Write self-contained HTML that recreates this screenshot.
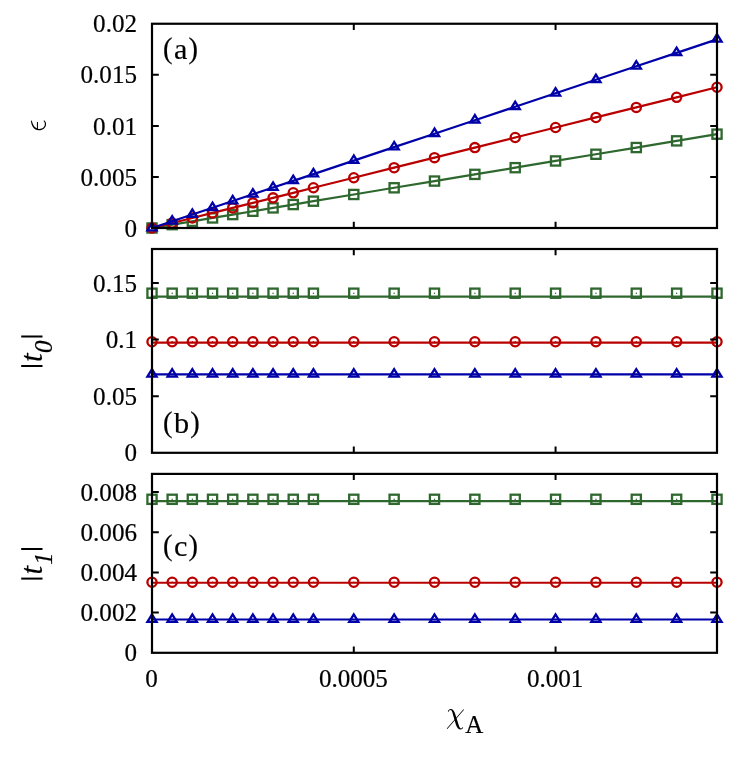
<!DOCTYPE html>
<html><head><meta charset="utf-8"><title>chart</title>
<style>
html,body{margin:0;padding:0;background:#fff;}
body{width:747px;height:758px;overflow:hidden;}
svg{display:block;will-change:transform;}
#t{filter:grayscale(1);}
text{font-family:"Liberation Serif",serif;fill:#000;stroke:#000;stroke-width:0.2px;}
</style></head><body>
<svg width="747" height="758" viewBox="0 0 747 758">
<rect x="0" y="0" width="747" height="758" fill="#fff"/>
<path d="M152 228L172.18 224.65L192.36 221.3L212.54 217.94L232.71 214.59L252.89 211.24L273.07 207.89L293.25 204.54L313.43 201.18L353.79 194.48L394.14 187.78L434.5 181.07L474.86 174.37L515.21 167.67L555.57 160.96L595.93 154.26L636.29 147.55L676.64 140.85L717 134.15" fill="none" stroke="#2f682f" stroke-width="2.2" stroke-linejoin="round"/>
<g><rect x="147.4" y="223.4" width="9.2" height="9.2" fill="none" stroke="#2f682f" stroke-width="2.3"/><circle cx="152" cy="228" r="0.75" fill="#2f682f"/><rect x="167.58" y="220.05" width="9.2" height="9.2" fill="none" stroke="#2f682f" stroke-width="2.3"/><circle cx="172.18" cy="224.65" r="0.75" fill="#2f682f"/><rect x="187.76" y="216.7" width="9.2" height="9.2" fill="none" stroke="#2f682f" stroke-width="2.3"/><circle cx="192.36" cy="221.3" r="0.75" fill="#2f682f"/><rect x="207.94" y="213.34" width="9.2" height="9.2" fill="none" stroke="#2f682f" stroke-width="2.3"/><circle cx="212.54" cy="217.94" r="0.75" fill="#2f682f"/><rect x="228.11" y="209.99" width="9.2" height="9.2" fill="none" stroke="#2f682f" stroke-width="2.3"/><circle cx="232.71" cy="214.59" r="0.75" fill="#2f682f"/><rect x="248.29" y="206.64" width="9.2" height="9.2" fill="none" stroke="#2f682f" stroke-width="2.3"/><circle cx="252.89" cy="211.24" r="0.75" fill="#2f682f"/><rect x="268.47" y="203.29" width="9.2" height="9.2" fill="none" stroke="#2f682f" stroke-width="2.3"/><circle cx="273.07" cy="207.89" r="0.75" fill="#2f682f"/><rect x="288.65" y="199.94" width="9.2" height="9.2" fill="none" stroke="#2f682f" stroke-width="2.3"/><circle cx="293.25" cy="204.54" r="0.75" fill="#2f682f"/><rect x="308.83" y="196.58" width="9.2" height="9.2" fill="none" stroke="#2f682f" stroke-width="2.3"/><circle cx="313.43" cy="201.18" r="0.75" fill="#2f682f"/><rect x="349.19" y="189.88" width="9.2" height="9.2" fill="none" stroke="#2f682f" stroke-width="2.3"/><circle cx="353.79" cy="194.48" r="0.75" fill="#2f682f"/><rect x="389.54" y="183.18" width="9.2" height="9.2" fill="none" stroke="#2f682f" stroke-width="2.3"/><circle cx="394.14" cy="187.78" r="0.75" fill="#2f682f"/><rect x="429.9" y="176.47" width="9.2" height="9.2" fill="none" stroke="#2f682f" stroke-width="2.3"/><circle cx="434.5" cy="181.07" r="0.75" fill="#2f682f"/><rect x="470.26" y="169.77" width="9.2" height="9.2" fill="none" stroke="#2f682f" stroke-width="2.3"/><circle cx="474.86" cy="174.37" r="0.75" fill="#2f682f"/><rect x="510.61" y="163.07" width="9.2" height="9.2" fill="none" stroke="#2f682f" stroke-width="2.3"/><circle cx="515.21" cy="167.67" r="0.75" fill="#2f682f"/><rect x="550.97" y="156.36" width="9.2" height="9.2" fill="none" stroke="#2f682f" stroke-width="2.3"/><circle cx="555.57" cy="160.96" r="0.75" fill="#2f682f"/><rect x="591.33" y="149.66" width="9.2" height="9.2" fill="none" stroke="#2f682f" stroke-width="2.3"/><circle cx="595.93" cy="154.26" r="0.75" fill="#2f682f"/><rect x="631.69" y="142.95" width="9.2" height="9.2" fill="none" stroke="#2f682f" stroke-width="2.3"/><circle cx="636.29" cy="147.55" r="0.75" fill="#2f682f"/><rect x="672.04" y="136.25" width="9.2" height="9.2" fill="none" stroke="#2f682f" stroke-width="2.3"/><circle cx="676.64" cy="140.85" r="0.75" fill="#2f682f"/><rect x="712.4" y="129.55" width="9.2" height="9.2" fill="none" stroke="#2f682f" stroke-width="2.3"/><circle cx="717" cy="134.15" r="0.75" fill="#2f682f"/></g>
<path d="M152 228L172.18 222.97L192.36 217.95L212.54 212.92L232.71 207.9L252.89 202.87L273.07 197.84L293.25 192.82L313.43 187.79L353.79 177.74L394.14 167.69L434.5 157.64L474.86 147.58L515.21 137.53L555.57 127.48L595.93 117.43L636.29 107.38L676.64 97.32L717 87.27" fill="none" stroke="#b90000" stroke-width="2.2" stroke-linejoin="round"/>
<g><circle cx="152" cy="228" r="4.6" fill="none" stroke="#b90000" stroke-width="2.3"/><circle cx="152" cy="228" r="0.75" fill="#b90000"/><circle cx="172.18" cy="222.97" r="4.6" fill="none" stroke="#b90000" stroke-width="2.3"/><circle cx="172.18" cy="222.97" r="0.75" fill="#b90000"/><circle cx="192.36" cy="217.95" r="4.6" fill="none" stroke="#b90000" stroke-width="2.3"/><circle cx="192.36" cy="217.95" r="0.75" fill="#b90000"/><circle cx="212.54" cy="212.92" r="4.6" fill="none" stroke="#b90000" stroke-width="2.3"/><circle cx="212.54" cy="212.92" r="0.75" fill="#b90000"/><circle cx="232.71" cy="207.9" r="4.6" fill="none" stroke="#b90000" stroke-width="2.3"/><circle cx="232.71" cy="207.9" r="0.75" fill="#b90000"/><circle cx="252.89" cy="202.87" r="4.6" fill="none" stroke="#b90000" stroke-width="2.3"/><circle cx="252.89" cy="202.87" r="0.75" fill="#b90000"/><circle cx="273.07" cy="197.84" r="4.6" fill="none" stroke="#b90000" stroke-width="2.3"/><circle cx="273.07" cy="197.84" r="0.75" fill="#b90000"/><circle cx="293.25" cy="192.82" r="4.6" fill="none" stroke="#b90000" stroke-width="2.3"/><circle cx="293.25" cy="192.82" r="0.75" fill="#b90000"/><circle cx="313.43" cy="187.79" r="4.6" fill="none" stroke="#b90000" stroke-width="2.3"/><circle cx="313.43" cy="187.79" r="0.75" fill="#b90000"/><circle cx="353.79" cy="177.74" r="4.6" fill="none" stroke="#b90000" stroke-width="2.3"/><circle cx="353.79" cy="177.74" r="0.75" fill="#b90000"/><circle cx="394.14" cy="167.69" r="4.6" fill="none" stroke="#b90000" stroke-width="2.3"/><circle cx="394.14" cy="167.69" r="0.75" fill="#b90000"/><circle cx="434.5" cy="157.64" r="4.6" fill="none" stroke="#b90000" stroke-width="2.3"/><circle cx="434.5" cy="157.64" r="0.75" fill="#b90000"/><circle cx="474.86" cy="147.58" r="4.6" fill="none" stroke="#b90000" stroke-width="2.3"/><circle cx="474.86" cy="147.58" r="0.75" fill="#b90000"/><circle cx="515.21" cy="137.53" r="4.6" fill="none" stroke="#b90000" stroke-width="2.3"/><circle cx="515.21" cy="137.53" r="0.75" fill="#b90000"/><circle cx="555.57" cy="127.48" r="4.6" fill="none" stroke="#b90000" stroke-width="2.3"/><circle cx="555.57" cy="127.48" r="0.75" fill="#b90000"/><circle cx="595.93" cy="117.43" r="4.6" fill="none" stroke="#b90000" stroke-width="2.3"/><circle cx="595.93" cy="117.43" r="0.75" fill="#b90000"/><circle cx="636.29" cy="107.38" r="4.6" fill="none" stroke="#b90000" stroke-width="2.3"/><circle cx="636.29" cy="107.38" r="0.75" fill="#b90000"/><circle cx="676.64" cy="97.32" r="4.6" fill="none" stroke="#b90000" stroke-width="2.3"/><circle cx="676.64" cy="97.32" r="0.75" fill="#b90000"/><circle cx="717" cy="87.27" r="4.6" fill="none" stroke="#b90000" stroke-width="2.3"/><circle cx="717" cy="87.27" r="0.75" fill="#b90000"/></g>
<path d="M152 228L172.18 221.26L192.36 214.53L212.54 207.79L232.71 201.05L252.89 194.32L273.07 187.58L293.25 180.84L313.43 174.11L353.79 160.63L394.14 147.16L434.5 133.69L474.86 120.21L515.21 106.74L555.57 93.27L595.93 79.79L636.29 66.32L676.64 52.85L717 39.38" fill="none" stroke="#0000a8" stroke-width="2.2" stroke-linejoin="round"/>
<g><path d="M152 222.85L147.4 230.3L156.6 230.3Z" fill="none" stroke="#0000a8" stroke-width="2.3" stroke-linejoin="miter"/><circle cx="152" cy="228" r="0.75" fill="#0000a8"/><path d="M172.18 216.11L167.58 223.56L176.78 223.56Z" fill="none" stroke="#0000a8" stroke-width="2.3" stroke-linejoin="miter"/><circle cx="172.18" cy="221.26" r="0.75" fill="#0000a8"/><path d="M192.36 209.37L187.76 216.83L196.96 216.83Z" fill="none" stroke="#0000a8" stroke-width="2.3" stroke-linejoin="miter"/><circle cx="192.36" cy="214.53" r="0.75" fill="#0000a8"/><path d="M212.54 202.64L207.94 210.09L217.14 210.09Z" fill="none" stroke="#0000a8" stroke-width="2.3" stroke-linejoin="miter"/><circle cx="212.54" cy="207.79" r="0.75" fill="#0000a8"/><path d="M232.71 195.9L228.11 203.35L237.31 203.35Z" fill="none" stroke="#0000a8" stroke-width="2.3" stroke-linejoin="miter"/><circle cx="232.71" cy="201.05" r="0.75" fill="#0000a8"/><path d="M252.89 189.16L248.29 196.62L257.49 196.62Z" fill="none" stroke="#0000a8" stroke-width="2.3" stroke-linejoin="miter"/><circle cx="252.89" cy="194.32" r="0.75" fill="#0000a8"/><path d="M273.07 182.43L268.47 189.88L277.67 189.88Z" fill="none" stroke="#0000a8" stroke-width="2.3" stroke-linejoin="miter"/><circle cx="273.07" cy="187.58" r="0.75" fill="#0000a8"/><path d="M293.25 175.69L288.65 183.14L297.85 183.14Z" fill="none" stroke="#0000a8" stroke-width="2.3" stroke-linejoin="miter"/><circle cx="293.25" cy="180.84" r="0.75" fill="#0000a8"/><path d="M313.43 168.96L308.83 176.41L318.03 176.41Z" fill="none" stroke="#0000a8" stroke-width="2.3" stroke-linejoin="miter"/><circle cx="313.43" cy="174.11" r="0.75" fill="#0000a8"/><path d="M353.79 155.48L349.19 162.93L358.39 162.93Z" fill="none" stroke="#0000a8" stroke-width="2.3" stroke-linejoin="miter"/><circle cx="353.79" cy="160.63" r="0.75" fill="#0000a8"/><path d="M394.14 142.01L389.54 149.46L398.74 149.46Z" fill="none" stroke="#0000a8" stroke-width="2.3" stroke-linejoin="miter"/><circle cx="394.14" cy="147.16" r="0.75" fill="#0000a8"/><path d="M434.5 128.54L429.9 135.99L439.1 135.99Z" fill="none" stroke="#0000a8" stroke-width="2.3" stroke-linejoin="miter"/><circle cx="434.5" cy="133.69" r="0.75" fill="#0000a8"/><path d="M474.86 115.06L470.26 122.51L479.46 122.51Z" fill="none" stroke="#0000a8" stroke-width="2.3" stroke-linejoin="miter"/><circle cx="474.86" cy="120.21" r="0.75" fill="#0000a8"/><path d="M515.21 101.59L510.61 109.04L519.81 109.04Z" fill="none" stroke="#0000a8" stroke-width="2.3" stroke-linejoin="miter"/><circle cx="515.21" cy="106.74" r="0.75" fill="#0000a8"/><path d="M555.57 88.12L550.97 95.57L560.17 95.57Z" fill="none" stroke="#0000a8" stroke-width="2.3" stroke-linejoin="miter"/><circle cx="555.57" cy="93.27" r="0.75" fill="#0000a8"/><path d="M595.93 74.64L591.33 82.09L600.53 82.09Z" fill="none" stroke="#0000a8" stroke-width="2.3" stroke-linejoin="miter"/><circle cx="595.93" cy="79.79" r="0.75" fill="#0000a8"/><path d="M636.29 61.17L631.69 68.62L640.89 68.62Z" fill="none" stroke="#0000a8" stroke-width="2.3" stroke-linejoin="miter"/><circle cx="636.29" cy="66.32" r="0.75" fill="#0000a8"/><path d="M676.64 47.7L672.04 55.15L681.24 55.15Z" fill="none" stroke="#0000a8" stroke-width="2.3" stroke-linejoin="miter"/><circle cx="676.64" cy="52.85" r="0.75" fill="#0000a8"/><path d="M717 34.22L712.4 41.68L721.6 41.68Z" fill="none" stroke="#0000a8" stroke-width="2.3" stroke-linejoin="miter"/><circle cx="717" cy="39.38" r="0.75" fill="#0000a8"/></g>
<path d="M152 296.6L717 296.6" fill="none" stroke="#2f682f" stroke-width="2.2" stroke-linejoin="round"/>
<g><rect x="147.4" y="288.6" width="9.2" height="9.2" fill="none" stroke="#2f682f" stroke-width="2.3"/><circle cx="152" cy="293.2" r="0.75" fill="#2f682f"/><rect x="167.58" y="288.6" width="9.2" height="9.2" fill="none" stroke="#2f682f" stroke-width="2.3"/><circle cx="172.18" cy="293.2" r="0.75" fill="#2f682f"/><rect x="187.76" y="288.6" width="9.2" height="9.2" fill="none" stroke="#2f682f" stroke-width="2.3"/><circle cx="192.36" cy="293.2" r="0.75" fill="#2f682f"/><rect x="207.94" y="288.6" width="9.2" height="9.2" fill="none" stroke="#2f682f" stroke-width="2.3"/><circle cx="212.54" cy="293.2" r="0.75" fill="#2f682f"/><rect x="228.11" y="288.6" width="9.2" height="9.2" fill="none" stroke="#2f682f" stroke-width="2.3"/><circle cx="232.71" cy="293.2" r="0.75" fill="#2f682f"/><rect x="248.29" y="288.6" width="9.2" height="9.2" fill="none" stroke="#2f682f" stroke-width="2.3"/><circle cx="252.89" cy="293.2" r="0.75" fill="#2f682f"/><rect x="268.47" y="288.6" width="9.2" height="9.2" fill="none" stroke="#2f682f" stroke-width="2.3"/><circle cx="273.07" cy="293.2" r="0.75" fill="#2f682f"/><rect x="288.65" y="288.6" width="9.2" height="9.2" fill="none" stroke="#2f682f" stroke-width="2.3"/><circle cx="293.25" cy="293.2" r="0.75" fill="#2f682f"/><rect x="308.83" y="288.6" width="9.2" height="9.2" fill="none" stroke="#2f682f" stroke-width="2.3"/><circle cx="313.43" cy="293.2" r="0.75" fill="#2f682f"/><rect x="349.19" y="288.6" width="9.2" height="9.2" fill="none" stroke="#2f682f" stroke-width="2.3"/><circle cx="353.79" cy="293.2" r="0.75" fill="#2f682f"/><rect x="389.54" y="288.6" width="9.2" height="9.2" fill="none" stroke="#2f682f" stroke-width="2.3"/><circle cx="394.14" cy="293.2" r="0.75" fill="#2f682f"/><rect x="429.9" y="288.6" width="9.2" height="9.2" fill="none" stroke="#2f682f" stroke-width="2.3"/><circle cx="434.5" cy="293.2" r="0.75" fill="#2f682f"/><rect x="470.26" y="288.6" width="9.2" height="9.2" fill="none" stroke="#2f682f" stroke-width="2.3"/><circle cx="474.86" cy="293.2" r="0.75" fill="#2f682f"/><rect x="510.61" y="288.6" width="9.2" height="9.2" fill="none" stroke="#2f682f" stroke-width="2.3"/><circle cx="515.21" cy="293.2" r="0.75" fill="#2f682f"/><rect x="550.97" y="288.6" width="9.2" height="9.2" fill="none" stroke="#2f682f" stroke-width="2.3"/><circle cx="555.57" cy="293.2" r="0.75" fill="#2f682f"/><rect x="591.33" y="288.6" width="9.2" height="9.2" fill="none" stroke="#2f682f" stroke-width="2.3"/><circle cx="595.93" cy="293.2" r="0.75" fill="#2f682f"/><rect x="631.69" y="288.6" width="9.2" height="9.2" fill="none" stroke="#2f682f" stroke-width="2.3"/><circle cx="636.29" cy="293.2" r="0.75" fill="#2f682f"/><rect x="672.04" y="288.6" width="9.2" height="9.2" fill="none" stroke="#2f682f" stroke-width="2.3"/><circle cx="676.64" cy="293.2" r="0.75" fill="#2f682f"/><rect x="712.4" y="288.6" width="9.2" height="9.2" fill="none" stroke="#2f682f" stroke-width="2.3"/><circle cx="717" cy="293.2" r="0.75" fill="#2f682f"/></g>
<path d="M152 342.65L717 342.65" fill="none" stroke="#b90000" stroke-width="2.2" stroke-linejoin="round"/>
<g><circle cx="152" cy="341.7" r="4.6" fill="none" stroke="#b90000" stroke-width="2.3"/><circle cx="152" cy="341.7" r="0.75" fill="#b90000"/><circle cx="172.18" cy="341.7" r="4.6" fill="none" stroke="#b90000" stroke-width="2.3"/><circle cx="172.18" cy="341.7" r="0.75" fill="#b90000"/><circle cx="192.36" cy="341.7" r="4.6" fill="none" stroke="#b90000" stroke-width="2.3"/><circle cx="192.36" cy="341.7" r="0.75" fill="#b90000"/><circle cx="212.54" cy="341.7" r="4.6" fill="none" stroke="#b90000" stroke-width="2.3"/><circle cx="212.54" cy="341.7" r="0.75" fill="#b90000"/><circle cx="232.71" cy="341.7" r="4.6" fill="none" stroke="#b90000" stroke-width="2.3"/><circle cx="232.71" cy="341.7" r="0.75" fill="#b90000"/><circle cx="252.89" cy="341.7" r="4.6" fill="none" stroke="#b90000" stroke-width="2.3"/><circle cx="252.89" cy="341.7" r="0.75" fill="#b90000"/><circle cx="273.07" cy="341.7" r="4.6" fill="none" stroke="#b90000" stroke-width="2.3"/><circle cx="273.07" cy="341.7" r="0.75" fill="#b90000"/><circle cx="293.25" cy="341.7" r="4.6" fill="none" stroke="#b90000" stroke-width="2.3"/><circle cx="293.25" cy="341.7" r="0.75" fill="#b90000"/><circle cx="313.43" cy="341.7" r="4.6" fill="none" stroke="#b90000" stroke-width="2.3"/><circle cx="313.43" cy="341.7" r="0.75" fill="#b90000"/><circle cx="353.79" cy="341.7" r="4.6" fill="none" stroke="#b90000" stroke-width="2.3"/><circle cx="353.79" cy="341.7" r="0.75" fill="#b90000"/><circle cx="394.14" cy="341.7" r="4.6" fill="none" stroke="#b90000" stroke-width="2.3"/><circle cx="394.14" cy="341.7" r="0.75" fill="#b90000"/><circle cx="434.5" cy="341.7" r="4.6" fill="none" stroke="#b90000" stroke-width="2.3"/><circle cx="434.5" cy="341.7" r="0.75" fill="#b90000"/><circle cx="474.86" cy="341.7" r="4.6" fill="none" stroke="#b90000" stroke-width="2.3"/><circle cx="474.86" cy="341.7" r="0.75" fill="#b90000"/><circle cx="515.21" cy="341.7" r="4.6" fill="none" stroke="#b90000" stroke-width="2.3"/><circle cx="515.21" cy="341.7" r="0.75" fill="#b90000"/><circle cx="555.57" cy="341.7" r="4.6" fill="none" stroke="#b90000" stroke-width="2.3"/><circle cx="555.57" cy="341.7" r="0.75" fill="#b90000"/><circle cx="595.93" cy="341.7" r="4.6" fill="none" stroke="#b90000" stroke-width="2.3"/><circle cx="595.93" cy="341.7" r="0.75" fill="#b90000"/><circle cx="636.29" cy="341.7" r="4.6" fill="none" stroke="#b90000" stroke-width="2.3"/><circle cx="636.29" cy="341.7" r="0.75" fill="#b90000"/><circle cx="676.64" cy="341.7" r="4.6" fill="none" stroke="#b90000" stroke-width="2.3"/><circle cx="676.64" cy="341.7" r="0.75" fill="#b90000"/><circle cx="717" cy="341.7" r="4.6" fill="none" stroke="#b90000" stroke-width="2.3"/><circle cx="717" cy="341.7" r="0.75" fill="#b90000"/></g>
<path d="M152 374.3L717 374.3" fill="none" stroke="#0000a8" stroke-width="2.2" stroke-linejoin="round"/>
<g><path d="M152 369.15L147.4 376.6L156.6 376.6Z" fill="none" stroke="#0000a8" stroke-width="2.3" stroke-linejoin="miter"/><circle cx="152" cy="374.3" r="0.75" fill="#0000a8"/><path d="M172.18 369.15L167.58 376.6L176.78 376.6Z" fill="none" stroke="#0000a8" stroke-width="2.3" stroke-linejoin="miter"/><circle cx="172.18" cy="374.3" r="0.75" fill="#0000a8"/><path d="M192.36 369.15L187.76 376.6L196.96 376.6Z" fill="none" stroke="#0000a8" stroke-width="2.3" stroke-linejoin="miter"/><circle cx="192.36" cy="374.3" r="0.75" fill="#0000a8"/><path d="M212.54 369.15L207.94 376.6L217.14 376.6Z" fill="none" stroke="#0000a8" stroke-width="2.3" stroke-linejoin="miter"/><circle cx="212.54" cy="374.3" r="0.75" fill="#0000a8"/><path d="M232.71 369.15L228.11 376.6L237.31 376.6Z" fill="none" stroke="#0000a8" stroke-width="2.3" stroke-linejoin="miter"/><circle cx="232.71" cy="374.3" r="0.75" fill="#0000a8"/><path d="M252.89 369.15L248.29 376.6L257.49 376.6Z" fill="none" stroke="#0000a8" stroke-width="2.3" stroke-linejoin="miter"/><circle cx="252.89" cy="374.3" r="0.75" fill="#0000a8"/><path d="M273.07 369.15L268.47 376.6L277.67 376.6Z" fill="none" stroke="#0000a8" stroke-width="2.3" stroke-linejoin="miter"/><circle cx="273.07" cy="374.3" r="0.75" fill="#0000a8"/><path d="M293.25 369.15L288.65 376.6L297.85 376.6Z" fill="none" stroke="#0000a8" stroke-width="2.3" stroke-linejoin="miter"/><circle cx="293.25" cy="374.3" r="0.75" fill="#0000a8"/><path d="M313.43 369.15L308.83 376.6L318.03 376.6Z" fill="none" stroke="#0000a8" stroke-width="2.3" stroke-linejoin="miter"/><circle cx="313.43" cy="374.3" r="0.75" fill="#0000a8"/><path d="M353.79 369.15L349.19 376.6L358.39 376.6Z" fill="none" stroke="#0000a8" stroke-width="2.3" stroke-linejoin="miter"/><circle cx="353.79" cy="374.3" r="0.75" fill="#0000a8"/><path d="M394.14 369.15L389.54 376.6L398.74 376.6Z" fill="none" stroke="#0000a8" stroke-width="2.3" stroke-linejoin="miter"/><circle cx="394.14" cy="374.3" r="0.75" fill="#0000a8"/><path d="M434.5 369.15L429.9 376.6L439.1 376.6Z" fill="none" stroke="#0000a8" stroke-width="2.3" stroke-linejoin="miter"/><circle cx="434.5" cy="374.3" r="0.75" fill="#0000a8"/><path d="M474.86 369.15L470.26 376.6L479.46 376.6Z" fill="none" stroke="#0000a8" stroke-width="2.3" stroke-linejoin="miter"/><circle cx="474.86" cy="374.3" r="0.75" fill="#0000a8"/><path d="M515.21 369.15L510.61 376.6L519.81 376.6Z" fill="none" stroke="#0000a8" stroke-width="2.3" stroke-linejoin="miter"/><circle cx="515.21" cy="374.3" r="0.75" fill="#0000a8"/><path d="M555.57 369.15L550.97 376.6L560.17 376.6Z" fill="none" stroke="#0000a8" stroke-width="2.3" stroke-linejoin="miter"/><circle cx="555.57" cy="374.3" r="0.75" fill="#0000a8"/><path d="M595.93 369.15L591.33 376.6L600.53 376.6Z" fill="none" stroke="#0000a8" stroke-width="2.3" stroke-linejoin="miter"/><circle cx="595.93" cy="374.3" r="0.75" fill="#0000a8"/><path d="M636.29 369.15L631.69 376.6L640.89 376.6Z" fill="none" stroke="#0000a8" stroke-width="2.3" stroke-linejoin="miter"/><circle cx="636.29" cy="374.3" r="0.75" fill="#0000a8"/><path d="M676.64 369.15L672.04 376.6L681.24 376.6Z" fill="none" stroke="#0000a8" stroke-width="2.3" stroke-linejoin="miter"/><circle cx="676.64" cy="374.3" r="0.75" fill="#0000a8"/><path d="M717 369.15L712.4 376.6L721.6 376.6Z" fill="none" stroke="#0000a8" stroke-width="2.3" stroke-linejoin="miter"/><circle cx="717" cy="374.3" r="0.75" fill="#0000a8"/></g>
<path d="M152 501.2L717 501.2" fill="none" stroke="#2f682f" stroke-width="2.2" stroke-linejoin="round"/>
<g><rect x="147.4" y="494.7" width="9.2" height="9.2" fill="none" stroke="#2f682f" stroke-width="2.3"/><circle cx="152" cy="499.3" r="0.75" fill="#2f682f"/><rect x="167.58" y="494.7" width="9.2" height="9.2" fill="none" stroke="#2f682f" stroke-width="2.3"/><circle cx="172.18" cy="499.3" r="0.75" fill="#2f682f"/><rect x="187.76" y="494.7" width="9.2" height="9.2" fill="none" stroke="#2f682f" stroke-width="2.3"/><circle cx="192.36" cy="499.3" r="0.75" fill="#2f682f"/><rect x="207.94" y="494.7" width="9.2" height="9.2" fill="none" stroke="#2f682f" stroke-width="2.3"/><circle cx="212.54" cy="499.3" r="0.75" fill="#2f682f"/><rect x="228.11" y="494.7" width="9.2" height="9.2" fill="none" stroke="#2f682f" stroke-width="2.3"/><circle cx="232.71" cy="499.3" r="0.75" fill="#2f682f"/><rect x="248.29" y="494.7" width="9.2" height="9.2" fill="none" stroke="#2f682f" stroke-width="2.3"/><circle cx="252.89" cy="499.3" r="0.75" fill="#2f682f"/><rect x="268.47" y="494.7" width="9.2" height="9.2" fill="none" stroke="#2f682f" stroke-width="2.3"/><circle cx="273.07" cy="499.3" r="0.75" fill="#2f682f"/><rect x="288.65" y="494.7" width="9.2" height="9.2" fill="none" stroke="#2f682f" stroke-width="2.3"/><circle cx="293.25" cy="499.3" r="0.75" fill="#2f682f"/><rect x="308.83" y="494.7" width="9.2" height="9.2" fill="none" stroke="#2f682f" stroke-width="2.3"/><circle cx="313.43" cy="499.3" r="0.75" fill="#2f682f"/><rect x="349.19" y="494.7" width="9.2" height="9.2" fill="none" stroke="#2f682f" stroke-width="2.3"/><circle cx="353.79" cy="499.3" r="0.75" fill="#2f682f"/><rect x="389.54" y="494.7" width="9.2" height="9.2" fill="none" stroke="#2f682f" stroke-width="2.3"/><circle cx="394.14" cy="499.3" r="0.75" fill="#2f682f"/><rect x="429.9" y="494.7" width="9.2" height="9.2" fill="none" stroke="#2f682f" stroke-width="2.3"/><circle cx="434.5" cy="499.3" r="0.75" fill="#2f682f"/><rect x="470.26" y="494.7" width="9.2" height="9.2" fill="none" stroke="#2f682f" stroke-width="2.3"/><circle cx="474.86" cy="499.3" r="0.75" fill="#2f682f"/><rect x="510.61" y="494.7" width="9.2" height="9.2" fill="none" stroke="#2f682f" stroke-width="2.3"/><circle cx="515.21" cy="499.3" r="0.75" fill="#2f682f"/><rect x="550.97" y="494.7" width="9.2" height="9.2" fill="none" stroke="#2f682f" stroke-width="2.3"/><circle cx="555.57" cy="499.3" r="0.75" fill="#2f682f"/><rect x="591.33" y="494.7" width="9.2" height="9.2" fill="none" stroke="#2f682f" stroke-width="2.3"/><circle cx="595.93" cy="499.3" r="0.75" fill="#2f682f"/><rect x="631.69" y="494.7" width="9.2" height="9.2" fill="none" stroke="#2f682f" stroke-width="2.3"/><circle cx="636.29" cy="499.3" r="0.75" fill="#2f682f"/><rect x="672.04" y="494.7" width="9.2" height="9.2" fill="none" stroke="#2f682f" stroke-width="2.3"/><circle cx="676.64" cy="499.3" r="0.75" fill="#2f682f"/><rect x="712.4" y="494.7" width="9.2" height="9.2" fill="none" stroke="#2f682f" stroke-width="2.3"/><circle cx="717" cy="499.3" r="0.75" fill="#2f682f"/></g>
<path d="M152 582.75L717 582.75" fill="none" stroke="#b90000" stroke-width="2.2" stroke-linejoin="round"/>
<g><circle cx="152" cy="582.3" r="4.6" fill="none" stroke="#b90000" stroke-width="2.3"/><circle cx="152" cy="582.3" r="0.75" fill="#b90000"/><circle cx="172.18" cy="582.3" r="4.6" fill="none" stroke="#b90000" stroke-width="2.3"/><circle cx="172.18" cy="582.3" r="0.75" fill="#b90000"/><circle cx="192.36" cy="582.3" r="4.6" fill="none" stroke="#b90000" stroke-width="2.3"/><circle cx="192.36" cy="582.3" r="0.75" fill="#b90000"/><circle cx="212.54" cy="582.3" r="4.6" fill="none" stroke="#b90000" stroke-width="2.3"/><circle cx="212.54" cy="582.3" r="0.75" fill="#b90000"/><circle cx="232.71" cy="582.3" r="4.6" fill="none" stroke="#b90000" stroke-width="2.3"/><circle cx="232.71" cy="582.3" r="0.75" fill="#b90000"/><circle cx="252.89" cy="582.3" r="4.6" fill="none" stroke="#b90000" stroke-width="2.3"/><circle cx="252.89" cy="582.3" r="0.75" fill="#b90000"/><circle cx="273.07" cy="582.3" r="4.6" fill="none" stroke="#b90000" stroke-width="2.3"/><circle cx="273.07" cy="582.3" r="0.75" fill="#b90000"/><circle cx="293.25" cy="582.3" r="4.6" fill="none" stroke="#b90000" stroke-width="2.3"/><circle cx="293.25" cy="582.3" r="0.75" fill="#b90000"/><circle cx="313.43" cy="582.3" r="4.6" fill="none" stroke="#b90000" stroke-width="2.3"/><circle cx="313.43" cy="582.3" r="0.75" fill="#b90000"/><circle cx="353.79" cy="582.3" r="4.6" fill="none" stroke="#b90000" stroke-width="2.3"/><circle cx="353.79" cy="582.3" r="0.75" fill="#b90000"/><circle cx="394.14" cy="582.3" r="4.6" fill="none" stroke="#b90000" stroke-width="2.3"/><circle cx="394.14" cy="582.3" r="0.75" fill="#b90000"/><circle cx="434.5" cy="582.3" r="4.6" fill="none" stroke="#b90000" stroke-width="2.3"/><circle cx="434.5" cy="582.3" r="0.75" fill="#b90000"/><circle cx="474.86" cy="582.3" r="4.6" fill="none" stroke="#b90000" stroke-width="2.3"/><circle cx="474.86" cy="582.3" r="0.75" fill="#b90000"/><circle cx="515.21" cy="582.3" r="4.6" fill="none" stroke="#b90000" stroke-width="2.3"/><circle cx="515.21" cy="582.3" r="0.75" fill="#b90000"/><circle cx="555.57" cy="582.3" r="4.6" fill="none" stroke="#b90000" stroke-width="2.3"/><circle cx="555.57" cy="582.3" r="0.75" fill="#b90000"/><circle cx="595.93" cy="582.3" r="4.6" fill="none" stroke="#b90000" stroke-width="2.3"/><circle cx="595.93" cy="582.3" r="0.75" fill="#b90000"/><circle cx="636.29" cy="582.3" r="4.6" fill="none" stroke="#b90000" stroke-width="2.3"/><circle cx="636.29" cy="582.3" r="0.75" fill="#b90000"/><circle cx="676.64" cy="582.3" r="4.6" fill="none" stroke="#b90000" stroke-width="2.3"/><circle cx="676.64" cy="582.3" r="0.75" fill="#b90000"/><circle cx="717" cy="582.3" r="4.6" fill="none" stroke="#b90000" stroke-width="2.3"/><circle cx="717" cy="582.3" r="0.75" fill="#b90000"/></g>
<path d="M152 619.5L717 619.5" fill="none" stroke="#0000a8" stroke-width="2.2" stroke-linejoin="round"/>
<g><path d="M152 614.45L147.4 621.9L156.6 621.9Z" fill="none" stroke="#0000a8" stroke-width="2.3" stroke-linejoin="miter"/><circle cx="152" cy="619.6" r="0.75" fill="#0000a8"/><path d="M172.18 614.45L167.58 621.9L176.78 621.9Z" fill="none" stroke="#0000a8" stroke-width="2.3" stroke-linejoin="miter"/><circle cx="172.18" cy="619.6" r="0.75" fill="#0000a8"/><path d="M192.36 614.45L187.76 621.9L196.96 621.9Z" fill="none" stroke="#0000a8" stroke-width="2.3" stroke-linejoin="miter"/><circle cx="192.36" cy="619.6" r="0.75" fill="#0000a8"/><path d="M212.54 614.45L207.94 621.9L217.14 621.9Z" fill="none" stroke="#0000a8" stroke-width="2.3" stroke-linejoin="miter"/><circle cx="212.54" cy="619.6" r="0.75" fill="#0000a8"/><path d="M232.71 614.45L228.11 621.9L237.31 621.9Z" fill="none" stroke="#0000a8" stroke-width="2.3" stroke-linejoin="miter"/><circle cx="232.71" cy="619.6" r="0.75" fill="#0000a8"/><path d="M252.89 614.45L248.29 621.9L257.49 621.9Z" fill="none" stroke="#0000a8" stroke-width="2.3" stroke-linejoin="miter"/><circle cx="252.89" cy="619.6" r="0.75" fill="#0000a8"/><path d="M273.07 614.45L268.47 621.9L277.67 621.9Z" fill="none" stroke="#0000a8" stroke-width="2.3" stroke-linejoin="miter"/><circle cx="273.07" cy="619.6" r="0.75" fill="#0000a8"/><path d="M293.25 614.45L288.65 621.9L297.85 621.9Z" fill="none" stroke="#0000a8" stroke-width="2.3" stroke-linejoin="miter"/><circle cx="293.25" cy="619.6" r="0.75" fill="#0000a8"/><path d="M313.43 614.45L308.83 621.9L318.03 621.9Z" fill="none" stroke="#0000a8" stroke-width="2.3" stroke-linejoin="miter"/><circle cx="313.43" cy="619.6" r="0.75" fill="#0000a8"/><path d="M353.79 614.45L349.19 621.9L358.39 621.9Z" fill="none" stroke="#0000a8" stroke-width="2.3" stroke-linejoin="miter"/><circle cx="353.79" cy="619.6" r="0.75" fill="#0000a8"/><path d="M394.14 614.45L389.54 621.9L398.74 621.9Z" fill="none" stroke="#0000a8" stroke-width="2.3" stroke-linejoin="miter"/><circle cx="394.14" cy="619.6" r="0.75" fill="#0000a8"/><path d="M434.5 614.45L429.9 621.9L439.1 621.9Z" fill="none" stroke="#0000a8" stroke-width="2.3" stroke-linejoin="miter"/><circle cx="434.5" cy="619.6" r="0.75" fill="#0000a8"/><path d="M474.86 614.45L470.26 621.9L479.46 621.9Z" fill="none" stroke="#0000a8" stroke-width="2.3" stroke-linejoin="miter"/><circle cx="474.86" cy="619.6" r="0.75" fill="#0000a8"/><path d="M515.21 614.45L510.61 621.9L519.81 621.9Z" fill="none" stroke="#0000a8" stroke-width="2.3" stroke-linejoin="miter"/><circle cx="515.21" cy="619.6" r="0.75" fill="#0000a8"/><path d="M555.57 614.45L550.97 621.9L560.17 621.9Z" fill="none" stroke="#0000a8" stroke-width="2.3" stroke-linejoin="miter"/><circle cx="555.57" cy="619.6" r="0.75" fill="#0000a8"/><path d="M595.93 614.45L591.33 621.9L600.53 621.9Z" fill="none" stroke="#0000a8" stroke-width="2.3" stroke-linejoin="miter"/><circle cx="595.93" cy="619.6" r="0.75" fill="#0000a8"/><path d="M636.29 614.45L631.69 621.9L640.89 621.9Z" fill="none" stroke="#0000a8" stroke-width="2.3" stroke-linejoin="miter"/><circle cx="636.29" cy="619.6" r="0.75" fill="#0000a8"/><path d="M676.64 614.45L672.04 621.9L681.24 621.9Z" fill="none" stroke="#0000a8" stroke-width="2.3" stroke-linejoin="miter"/><circle cx="676.64" cy="619.6" r="0.75" fill="#0000a8"/><path d="M717 614.45L712.4 621.9L721.6 621.9Z" fill="none" stroke="#0000a8" stroke-width="2.3" stroke-linejoin="miter"/><circle cx="717" cy="619.6" r="0.75" fill="#0000a8"/></g>
<path d="M353.79 228V221.8M353.79 23.75V29.95M555.57 228V221.8M555.57 23.75V29.95M152 176.94H158.8M717 176.94H710.2M152 125.88H158.8M717 125.88H710.2M152 74.81H158.8M717 74.81H710.2" fill="none" stroke="#000" stroke-width="2.0"/>
<rect x="152" y="23.75" width="565" height="204.25" fill="none" stroke="#000" stroke-width="2.2"/>
<path d="M353.79 452.8V446.6M353.79 249V255.2M555.57 452.8V446.6M555.57 249V255.2M152 396.19H158.8M717 396.19H710.2M152 339.58H158.8M717 339.58H710.2M152 282.97H158.8M717 282.97H710.2" fill="none" stroke="#000" stroke-width="2.0"/>
<rect x="152" y="249" width="565" height="203.8" fill="none" stroke="#000" stroke-width="2.2"/>
<path d="M353.79 652.8V646.6M353.79 473.9V480.1M555.57 652.8V646.6M555.57 473.9V480.1M152 612.62H158.8M717 612.62H710.2M152 572.45H158.8M717 572.45H710.2M152 532.27H158.8M717 532.27H710.2M152 492.1H158.8M717 492.1H710.2" fill="none" stroke="#000" stroke-width="2.0"/>
<rect x="152" y="473.9" width="565" height="178.9" fill="none" stroke="#000" stroke-width="2.2"/>
<path d="M36.92 122.03 L37.94 122.03 L37.94 129.36 L36.92 129.36 Z" fill="#000"/>
<path d="M30.98 120.53 C31.03 125.35 34.03 130.17 38.74 130.33 C43.03 130.44 46.08 127.49 46.08 124.01 C46.08 122.4 45.17 120.96 44.1 120.31 L43.45 121.06 C44.42 121.71 44.9 122.94 44.85 124.28 C44.69 127.22 41.95 129.2 39.06 128.94 C35.64 128.61 32.85 125.62 31.89 120.64 Z" fill="#000"/>
<rect x="21.2" y="335.5" width="21.3" height="2" fill="#000"/><rect x="21.2" y="365" width="21.3" height="2" fill="#000"/>
<rect x="21.2" y="548" width="21.3" height="2" fill="#000"/><rect x="21.2" y="577.6" width="21.3" height="2" fill="#000"/>
<path d="M447.86 711.76 C447.86 710.34 449.13 708.91 450.79 708.91 C452.77 708.91 454.08 710.65 454.87 713.03 L458.16 723.25 C458.95 726.02 459.62 728.24 460.93 728.4 C461.8 728.48 462.36 727.84 462.59 726.97 L463.15 727.29 C462.83 728.63 461.8 729.58 460.46 729.58 C458.4 729.58 457.05 727.76 455.94 724.75 L452.93 714.38 C452.22 711.6 451.7 709.94 450.4 709.94 C449.37 709.94 448.73 710.81 448.65 711.84 Z" fill="#000"/><path d="M463.47 709.27 L464.02 709.78 L447.35 729.03 L446.79 728.51 Z" fill="#000"/>
<g id="t">
<text x="137" y="236.65" font-size="25.1" text-anchor="end">0</text>
<text x="137" y="185.59" font-size="25.1" text-anchor="end">0.005</text>
<text x="137" y="134.53" font-size="25.1" text-anchor="end">0.01</text>
<text x="137" y="83.46" font-size="25.1" text-anchor="end">0.015</text>
<text x="137" y="32.4" font-size="25.1" text-anchor="end">0.02</text>
<text x="137" y="461.45" font-size="25.1" text-anchor="end">0</text>
<text x="137" y="404.84" font-size="25.1" text-anchor="end">0.05</text>
<text x="137" y="348.23" font-size="25.1" text-anchor="end">0.1</text>
<text x="137" y="291.62" font-size="25.1" text-anchor="end">0.15</text>
<text x="137" y="661.45" font-size="25.1" text-anchor="end">0</text>
<text x="137" y="621.27" font-size="25.1" text-anchor="end">0.002</text>
<text x="137" y="581.1" font-size="25.1" text-anchor="end">0.004</text>
<text x="137" y="540.92" font-size="25.1" text-anchor="end">0.006</text>
<text x="137" y="500.75" font-size="25.1" text-anchor="end">0.008</text>
<text x="151.6" y="687" font-size="25.1" text-anchor="middle">0</text>
<text x="353.39" y="687" font-size="25.1" text-anchor="middle">0.0005</text>
<text x="555.17" y="687" font-size="25.1" text-anchor="middle">0.001</text>
<text x="163.0" y="59" font-size="30.2"><tspan font-size="28.5" dy="-1">(</tspan><tspan dy="1" dx="1.4">a</tspan><tspan font-size="28.5" dy="-1" dx="1.3">)</tspan></text>
<text x="163.0" y="433" font-size="30.2"><tspan font-size="28.5" dy="-1">(</tspan><tspan dy="1" dx="1.4">b</tspan><tspan font-size="28.5" dy="-1" dx="1.3">)</tspan></text>
<text x="163.0" y="556" font-size="30.2"><tspan font-size="28.5" dy="-1">(</tspan><tspan dy="1" dx="1.4">c</tspan><tspan font-size="28.5" dy="-1" dx="1.3">)</tspan></text>
<text transform="translate(42.1 362) rotate(-90)" font-size="31" font-style="italic">t</text><text transform="translate(52 353.1) rotate(-90)" font-size="25" font-style="italic">0</text>
<text transform="translate(42.1 574.6) rotate(-90)" font-size="31" font-style="italic">t</text><text transform="translate(51.8 565) rotate(-90)" font-size="25" font-style="italic">1</text>
<text x="465.3" y="732.7" font-size="25">A</text>
</g>
</svg>
</body></html>
